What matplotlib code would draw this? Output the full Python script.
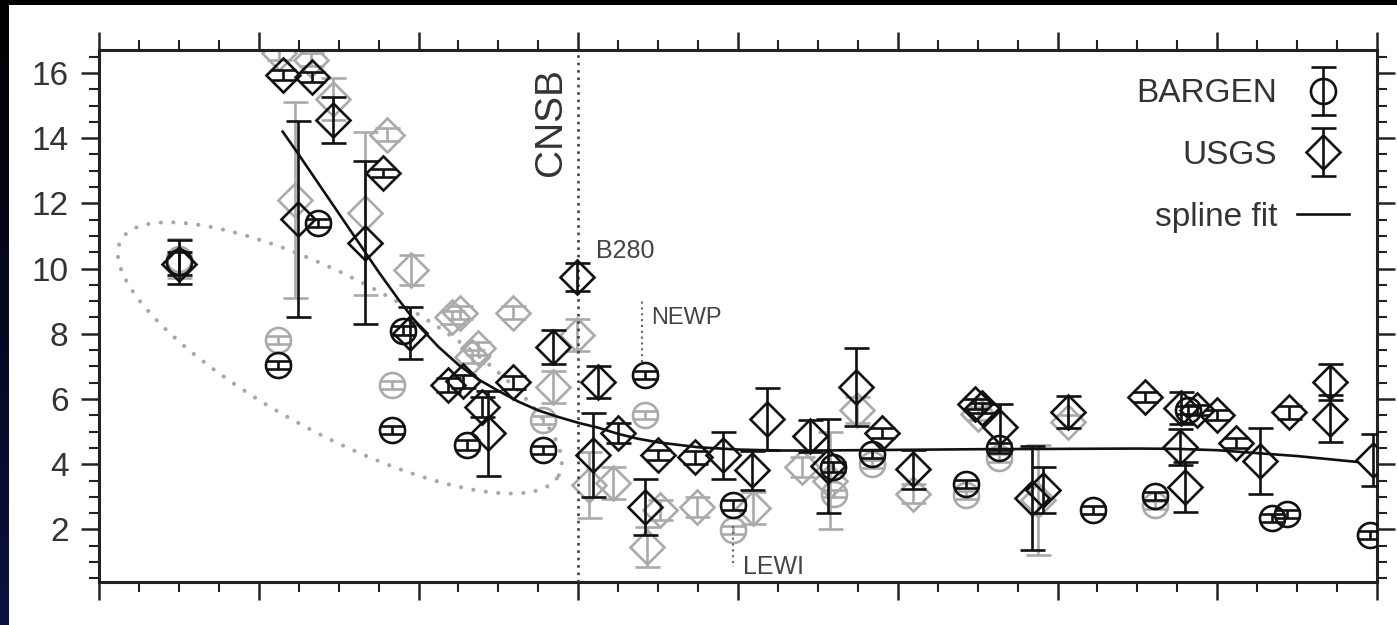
import numpy as np
import matplotlib
matplotlib.use("Agg")
import matplotlib.pyplot as plt
from matplotlib.legend_handler import HandlerErrorbar
from matplotlib.container import ErrorbarContainer

plt.rcParams['font.family'] = ['Liberation Sans', 'DejaVu Sans']

# ---------------- data ----------------
# BARGEN (dark circles)
bargen_x = [2.0, 4.48, 5.48, 7.34, 7.61, 9.21, 11.12, 13.67, 15.87, 18.38, 19.35,
            21.7, 22.53, 24.89, 26.44, 27.27, 29.37, 29.74, 31.82]
bargen_y = [10.2, 7.04, 11.4, 5.05, 8.1, 4.59, 4.44, 6.74, 2.75, 3.91, 4.31,
            3.39, 4.5, 2.6, 3.02, 5.66, 2.35, 2.47, 1.83]
bargen_err = [0.67, 0.12, 0.12, 0.12, 0.15, 0.15, 0.12, 0.12, 0.15, 0.15, 0.12,
              0.12, 0.15, 0.12, 0.12, 0.12, 0.12, 0.12, 0.12]

# USGS (dark diamonds)
usgs_x = [2.0, 4.61, 5.33, 5.86, 4.98, 7.11, 6.66, 7.79, 8.74, 9.11, 9.59, 9.75,
          10.37, 11.37, 11.97, 12.5, 12.37, 13.0, 13.67, 14.0, 14.92, 15.62, 16.35,
          16.72, 17.8, 18.25, 18.95, 19.6, 20.38, 21.93, 22.1, 22.56, 23.37, 23.63,
          24.26, 26.2, 27.1, 27.5, 28.0, 27.07, 27.19, 28.47, 29.07, 29.8, 30.82,
          30.82, 31.9]
usgs_y = [10.15, 15.94, 15.88, 14.56, 11.52, 12.93, 10.79, 8.02, 6.43, 6.55, 5.75,
          4.95, 6.52, 7.6, 9.74, 6.52, 4.28, 4.96, 2.69, 4.28, 4.22, 4.28, 3.82,
          5.39, 4.87, 3.95, 6.37, 4.96, 3.85, 5.85, 5.72, 5.14, 2.96, 3.2,
          5.6, 6.06, 5.72, 5.66, 5.5, 4.53, 3.3, 4.65, 4.1, 5.6, 6.52,
          5.39, 4.13]
usgs_err = [0.35, 0.15, 0.15, 0.7, 3.0, 0.12, 2.5, 0.8, 0.2, 0.2, 0.3, 1.3,
            0.2, 0.52, 0.43, 0.48, 1.3, 0.3, 0.85, 0.15, 0.2, 0.72, 0.6,
            0.95, 0.5, 1.45, 1.2, 0.15, 0.6, 0.15, 0.15, 0.7, 1.6, 0.7,
            0.5, 0.15, 0.5, 0.15, 0.15, 0.54, 0.77, 0.15, 1.0, 0.2, 0.54,
            0.72, 0.8]

# alternative solutions (light grey)
bargen_alt_x = [2.0, 4.48, 7.34, 11.12, 13.67, 15.87, 18.4, 19.35, 21.7, 22.53, 26.44]
bargen_alt_y = [10.3, 7.8, 6.43, 5.35, 5.5, 1.98, 3.1, 4.0, 3.05, 4.2, 2.75]
bargen_alt_err = [0.6, 0.12, 0.12, 0.12, 0.12, 0.12, 0.12, 0.12, 0.12, 0.12, 0.12]

usgs_alt_x = [4.5, 5.3, 5.86, 4.9, 7.2, 6.66, 7.8, 8.85, 9.05, 10.37, 9.5, 9.35,
              11.37, 11.97, 12.28, 12.87, 13.72, 14.05, 14.97, 16.37, 17.6, 18.3,
              18.98, 20.38, 22.0, 24.26, 23.5]
usgs_alt_y = [16.6, 16.4, 15.2, 12.1, 14.1, 11.7, 9.96, 8.5, 8.64, 8.64, 7.56, 7.29,
              6.37, 7.96, 3.36, 3.42, 1.46, 2.6, 2.69, 2.66, 3.92, 3.5,
              5.66, 3.1, 5.55, 5.3, 2.9]
usgs_alt_err = [0.2, 0.2, 0.65, 3.0, 0.2, 2.5, 0.45, 0.2, 0.2, 0.2, 0.2, 0.2,
                0.5, 0.5, 1.0, 0.5, 0.6, 0.3, 0.3, 0.5, 0.3, 1.5,
                0.4, 0.3, 0.2, 0.2, 1.7]

# spline fit
spline_x = [4.6, 5.0, 5.5, 6.0, 6.5, 7.0, 7.5, 8.0, 8.5, 9.0, 9.5, 10.0, 10.5, 11.0,
            11.5, 12.0, 12.5, 13.0, 13.5, 14.0, 15.0, 16.0, 17.0, 18.0, 20.0, 22.0,
            24.0, 26.0, 27.0, 28.0, 29.0, 30.0, 31.0, 31.5]
spline_y = [14.2, 13.5, 12.6, 11.7, 10.8, 9.9, 9.05, 8.25, 7.6, 7.05, 6.6, 6.25, 5.92,
            5.65, 5.45, 5.27, 5.12, 4.93, 4.78, 4.67, 4.52, 4.45, 4.42, 4.42, 4.44,
            4.46, 4.47, 4.48, 4.47, 4.43, 4.34, 4.25, 4.13, 4.07]

y_ticks = [2, 4, 6, 8, 10, 12, 14, 16]

# ---------------- figure ----------------
W, H = 1397, 625
fig = plt.figure(figsize=(W / 100, H / 100), dpi=100)
fig.patch.set_facecolor('white')

# dark border strips of the original slide
bg_left = fig.add_axes([0, 0, 9 / W, 1])
grad = np.linspace(0, 1, 256).reshape(-1, 1)
bg_left.imshow(grad, aspect='auto', cmap=matplotlib.colors.LinearSegmentedColormap.from_list(
    'nv', ['#000000', '#0b1040']), extent=[0, 1, 0, 1])
bg_left.axis('off')
bg_top = fig.add_axes([0, 1 - 5 / H, 1, 5 / H])
bg_top.set_facecolor('black')
bg_top.set_xticks([]); bg_top.set_yticks([])
for s in bg_top.spines.values():
    s.set_visible(False)

ax_l, ax_r, ax_t, ax_b = 99, 1377, 50, 582
ax = fig.add_axes([ax_l / W, 1 - ax_b / H, (ax_r - ax_l) / W, (ax_b - ax_t) / H])
xmin, xmax = 0, 32
ymin, ymax = 0.387, 16.705
ax.set_xlim(xmin, xmax)
ax.set_ylim(ymin, ymax)

dark = '#111111'
light = '#aaaaaa'
ms_o = 18
ms_d = 17.5
base = dict(linestyle='none', mfc='none', mew=1.9, elinewidth=1.9,
            capsize=9, capthick=2.0)

# grey alternative solutions underneath
ax.errorbar(usgs_alt_x, usgs_alt_y, yerr=usgs_alt_err, marker='D', ms=ms_d, mec=light,
            ecolor=light, zorder=2, **base)
ax.errorbar(bargen_alt_x, bargen_alt_y, yerr=bargen_alt_err, marker='o', ms=ms_o,
            mec=light, ecolor=light, zorder=2, **base)

# dotted ellipse outlining the anomalous group (geometry in screen pixels)
sx = (ax_r - ax_l) / (xmax - xmin)
sy = (ax_b - ax_t) / (ymax - ymin)
e_cx, e_cy = 6.03, 7.26
e_a, e_b, e_ang = 248.5, 77.0, np.deg2rad(-28.2)
t = np.linspace(0, 2 * np.pi, 500)
ex = e_a * np.cos(t) * np.cos(e_ang) - e_b * np.sin(t) * np.sin(e_ang)
ey = e_a * np.cos(t) * np.sin(e_ang) + e_b * np.sin(t) * np.cos(e_ang)
ax.plot(e_cx + ex / sx, e_cy + ey / sy, color='#a8a8a8', lw=3.0,
        linestyle=(0, (0.01, 3.0)), dash_capstyle='round', zorder=1)

# dark data
bc = ax.errorbar(bargen_x, bargen_y, yerr=bargen_err, marker='o', ms=ms_o, mec=dark,
                 ecolor=dark, zorder=4, **base)
uc = ax.errorbar(usgs_x, usgs_y, yerr=usgs_err, marker='D', ms=ms_d, mec=dark,
                 ecolor=dark, zorder=4, **base)
sl, = ax.plot(spline_x, spline_y, color=dark, lw=1.9, zorder=5)

# station markers / labels
ax.axvline(12.0, color='#444444', lw=1.9, linestyle=(0, (1, 1.8)), zorder=3)
ax.text(11.32, 14.5, 'CNSB', rotation=90, ha='center', va='center',
        fontsize=28, color='#333333')
ax.text(12.44, 10.55, 'B280', ha='left', va='center', fontsize=18, color='#444444')
ax.plot([13.6, 13.6], [7.15, 9.0], color='#666666', lw=1.5, linestyle=(0, (1, 1.8)), zorder=3)
ax.text(13.82, 8.48, 'NEWP', ha='left', va='center', fontsize=17, color='#444444')
ax.plot([15.87, 15.87], [2.1, 0.85], color='#666666', lw=1.5, linestyle=(0, (1, 1.8)), zorder=3)
ax.text(16.12, 0.85, 'LEWI', ha='left', va='center', fontsize=18, color='#444444')

# axes styling
for s in ax.spines.values():
    s.set_color('#222222')
    s.set_linewidth(2.2)
ax.set_xticks(np.arange(0, 33, 4))
ax.set_xticks(np.arange(0, 33, 1), minor=True)
ax.set_yticks(y_ticks)
ax.set_yticks(np.arange(0.5, 16.6, 0.5), minor=True)
ax.tick_params(which='both', direction='out', top=True, right=True, bottom=True,
               left=True, labelbottom=False, color='#222222')
ax.tick_params(which='major', length=13, width=1.8, labelsize=24, labelcolor='#333333', pad=9)
ax.tick_params(which='minor', length=7, width=1.5)

leg = ax.legend([bc, uc, sl], ['BARGEN', 'USGS', 'spline fit'], loc='upper right',
                markerfirst=False, frameon=False, fontsize=24, handlelength=1.55,
                handletextpad=0.6, labelspacing=0.92, borderpad=0.0,
                borderaxespad=0.85,
                handler_map={ErrorbarContainer: HandlerErrorbar(xerr_size=0.5, yerr_size=0.72)})
for txt in leg.get_texts():
    txt.set_color('#333333')

fig.savefig('out.png', dpi=100, facecolor='white')
